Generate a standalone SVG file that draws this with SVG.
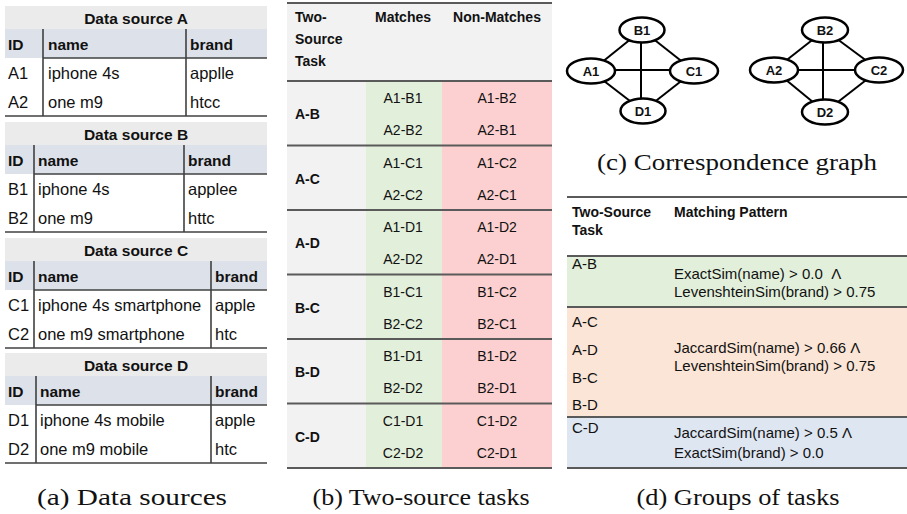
<svg xmlns="http://www.w3.org/2000/svg" width="907" height="514" viewBox="0 0 907 514">
  <style>
    text { font-family: "Liberation Sans", Arial, sans-serif; fill: #111; }
    .ttl { font-size: 15.5px; font-weight: bold; text-anchor: middle; }
    .hd { font-size: 15.5px; font-weight: bold; }
    .cell { font-size: 16.5px; }
    .bh { font-size: 14px; font-weight: bold; }
    .bc { font-size: 14px; text-anchor: middle; }
    .dc { font-size: 15px; }
    .cap { font-family: "Liberation Serif", "Times New Roman", serif; font-size: 23px; text-anchor: middle; }
    .rule { stroke: #404040; stroke-width: 1.6; fill: none; }
    .rule2 { stroke: #5a5a5a; stroke-width: 2; fill: none; }
    .titlebg { fill: #ebebeb; }
    .headbg { fill: #dde1e9; }
    .edge { stroke: #000; stroke-width: 2; }
    .node ellipse { fill: #fff; stroke: #000; stroke-width: 2.5; }
    .node text { font-size: 13px; font-weight: bold; text-anchor: middle; }
  </style>

  <!-- (a) data sources -->
  <g id="source-a">
    <rect class="titlebg" x="5" y="6" width="262" height="23"/>
    <rect class="headbg" x="5" y="29" width="262" height="29"/>
    <text class="ttl" x="136" y="23.5">Data source A</text>
    <text class="hd" x="8" y="50">ID</text>
    <text class="hd" x="48" y="50">name</text>
    <text class="hd" x="190" y="50">brand</text>
    <line class="rule" x1="43" y1="58" x2="267" y2="58"/>
    <line class="rule" x1="43" y1="29" x2="43" y2="116"/>
    <line class="rule" x1="186" y1="29" x2="186" y2="116"/>
    <line class="rule" x1="5" y1="116" x2="267" y2="116"/>
    <text class="cell" x="8" y="79">A1</text>
    <text class="cell" x="48" y="79">iphone 4s</text>
    <text class="cell" x="190" y="79">applle</text>
    <text class="cell" x="8" y="108">A2</text>
    <text class="cell" x="48" y="108">one m9</text>
    <text class="cell" x="190" y="108">htcc</text>
  </g>

  <g id="source-b">
    <rect class="titlebg" x="5" y="122" width="262" height="23"/>
    <rect class="headbg" x="5" y="145" width="262" height="29"/>
    <text class="ttl" x="136" y="139.5">Data source B</text>
    <text class="hd" x="8" y="166">ID</text>
    <text class="hd" x="38" y="166">name</text>
    <text class="hd" x="188" y="166">brand</text>
    <line class="rule" x1="34" y1="174" x2="267" y2="174"/>
    <line class="rule" x1="34" y1="145" x2="34" y2="232"/>
    <line class="rule" x1="184" y1="145" x2="184" y2="232"/>
    <line class="rule" x1="5" y1="232" x2="267" y2="232"/>
    <text class="cell" x="8" y="195">B1</text>
    <text class="cell" x="38" y="195">iphone 4s</text>
    <text class="cell" x="188" y="195">applee</text>
    <text class="cell" x="8" y="224">B2</text>
    <text class="cell" x="38" y="224">one m9</text>
    <text class="cell" x="188" y="224">httc</text>
  </g>

  <g id="source-c">
    <rect class="titlebg" x="5" y="238" width="262" height="23"/>
    <rect class="headbg" x="5" y="261" width="262" height="29"/>
    <text class="ttl" x="136" y="255.5">Data source C</text>
    <text class="hd" x="8" y="282">ID</text>
    <text class="hd" x="38" y="282">name</text>
    <text class="hd" x="215" y="282">brand</text>
    <line class="rule" x1="34" y1="290" x2="267" y2="290"/>
    <line class="rule" x1="34" y1="261" x2="34" y2="348"/>
    <line class="rule" x1="211" y1="261" x2="211" y2="348"/>
    <line class="rule" x1="5" y1="348" x2="267" y2="348"/>
    <text class="cell" x="8" y="311">C1</text>
    <text class="cell" x="38" y="311">iphone 4s smartphone</text>
    <text class="cell" x="215" y="311">apple</text>
    <text class="cell" x="8" y="340">C2</text>
    <text class="cell" x="38" y="340">one m9 smartphone</text>
    <text class="cell" x="215" y="340">htc</text>
  </g>

  <g id="source-d">
    <rect class="titlebg" x="5" y="353" width="262" height="23"/>
    <rect class="headbg" x="5" y="376" width="262" height="29"/>
    <text class="ttl" x="136" y="370.5">Data source D</text>
    <text class="hd" x="8" y="397">ID</text>
    <text class="hd" x="40" y="397">name</text>
    <text class="hd" x="215" y="397">brand</text>
    <line class="rule" x1="36" y1="405" x2="267" y2="405"/>
    <line class="rule" x1="36" y1="376" x2="36" y2="463"/>
    <line class="rule" x1="211" y1="376" x2="211" y2="463"/>
    <line class="rule" x1="5" y1="463" x2="267" y2="463"/>
    <text class="cell" x="8" y="426">D1</text>
    <text class="cell" x="40" y="426">iphone 4s mobile</text>
    <text class="cell" x="215" y="426">apple</text>
    <text class="cell" x="8" y="455">D2</text>
    <text class="cell" x="40" y="455">one m9 mobile</text>
    <text class="cell" x="215" y="455">htc</text>
  </g>

  <!-- (b) two-source tasks -->
  <g id="two-source-tasks">
    <rect x="287" y="3" width="265" height="78" fill="#f2f2f2"/>
    <rect x="287" y="81" width="79" height="387" fill="#f2f2f2"/>
    <rect x="366" y="81" width="76" height="387" fill="#e2efda"/>
    <rect x="442" y="81" width="110" height="387" fill="#fcd0d0"/>
    <line class="rule2" x1="287" y1="3" x2="552" y2="3" stroke="#7a7a7a"/>
    <text class="bh" x="295" y="22">Two-</text>
    <text class="bh" x="295" y="44">Source</text>
    <text class="bh" x="295" y="66">Task</text>
    <text class="bh" x="403" y="22" text-anchor="middle">Matches</text>
    <text class="bh" x="497" y="22" text-anchor="middle">Non-Matches</text>
    <line class="rule2" x1="287" y1="81" x2="552" y2="81"/>
    <line class="rule2" x1="287" y1="145.5" x2="552" y2="145.5"/>
    <line class="rule2" x1="287" y1="210" x2="552" y2="210"/>
    <line class="rule2" x1="287" y1="274.5" x2="552" y2="274.5"/>
    <line class="rule2" x1="287" y1="339" x2="552" y2="339"/>
    <line class="rule2" x1="287" y1="403.5" x2="552" y2="403.5"/>
    <line class="rule2" x1="287" y1="468" x2="552" y2="468"/>

    <text class="bh" x="295" y="119">A-B</text>
    <text class="bc" x="403" y="103">A1-B1</text>
    <text class="bc" x="403" y="135">A2-B2</text>
    <text class="bc" x="497" y="103">A1-B2</text>
    <text class="bc" x="497" y="135">A2-B1</text>

    <text class="bh" x="295" y="183.5">A-C</text>
    <text class="bc" x="403" y="167.5">A1-C1</text>
    <text class="bc" x="403" y="199.5">A2-C2</text>
    <text class="bc" x="497" y="167.5">A1-C2</text>
    <text class="bc" x="497" y="199.5">A2-C1</text>

    <text class="bh" x="295" y="248">A-D</text>
    <text class="bc" x="403" y="232">A1-D1</text>
    <text class="bc" x="403" y="264">A2-D2</text>
    <text class="bc" x="497" y="232">A1-D2</text>
    <text class="bc" x="497" y="264">A2-D1</text>

    <text class="bh" x="295" y="312.5">B-C</text>
    <text class="bc" x="403" y="296.5">B1-C1</text>
    <text class="bc" x="403" y="328.5">B2-C2</text>
    <text class="bc" x="497" y="296.5">B1-C2</text>
    <text class="bc" x="497" y="328.5">B2-C1</text>

    <text class="bh" x="295" y="377">B-D</text>
    <text class="bc" x="403" y="361">B1-D1</text>
    <text class="bc" x="403" y="393">B2-D2</text>
    <text class="bc" x="497" y="361">B1-D2</text>
    <text class="bc" x="497" y="393">B2-D1</text>

    <text class="bh" x="295" y="441.5">C-D</text>
    <text class="bc" x="403" y="425.5">C1-D1</text>
    <text class="bc" x="403" y="457.5">C2-D2</text>
    <text class="bc" x="497" y="425.5">C1-D2</text>
    <text class="bc" x="497" y="457.5">C2-D1</text>
  </g>

  <!-- (c) correspondence graph -->
  <g id="connectors">
    <line class="edge" x1="642" y1="30" x2="591" y2="71"/>
    <line class="edge" x1="642" y1="30" x2="694" y2="71"/>
    <line class="edge" x1="591" y1="71" x2="643" y2="111"/>
    <line class="edge" x1="694" y1="71" x2="643" y2="111"/>
    <line class="edge" x1="641" y1="30" x2="641" y2="111"/>
    <line class="edge" x1="591" y1="70" x2="694" y2="70"/>

    <line class="edge" x1="825" y1="30" x2="774" y2="70"/>
    <line class="edge" x1="825" y1="30" x2="879" y2="70"/>
    <line class="edge" x1="774" y1="70" x2="825" y2="112"/>
    <line class="edge" x1="879" y1="70" x2="825" y2="112"/>
    <line class="edge" x1="823" y1="30" x2="823" y2="112"/>
    <line class="edge" x1="774" y1="70" x2="879" y2="70"/>
  </g>
  <g id="node-b1" class="node"><ellipse cx="642" cy="30" rx="22.5" ry="12.5"/><text x="642" y="34.5">B1</text></g>
  <g id="node-a1" class="node"><ellipse cx="591" cy="71" rx="24" ry="12.5"/><text x="591" y="75.5">A1</text></g>
  <g id="node-c1" class="node"><ellipse cx="694" cy="71" rx="24" ry="12.5"/><text x="694" y="75.5">C1</text></g>
  <g id="node-d1" class="node"><ellipse cx="643" cy="111" rx="22.5" ry="12.5"/><text x="643" y="115.5">D1</text></g>
  <g id="node-b2" class="node"><ellipse cx="825" cy="30" rx="23" ry="12.5"/><text x="825" y="34.5">B2</text></g>
  <g id="node-a2" class="node"><ellipse cx="774" cy="70" rx="24" ry="12.5"/><text x="774" y="74.5">A2</text></g>
  <g id="node-c2" class="node"><ellipse cx="879" cy="70" rx="24" ry="12.5"/><text x="879" y="74.5">C2</text></g>
  <g id="node-d2" class="node"><ellipse cx="825" cy="112" rx="23" ry="12.5"/><text x="825" y="116.5">D2</text></g>

  <!-- (d) groups of tasks -->
  <g id="task-groups">
    <rect x="567" y="256" width="340" height="51" fill="#e2efda"/>
    <rect x="567" y="307" width="340" height="110" fill="#fbe5d6"/>
    <rect x="567" y="417" width="340" height="51" fill="#dee6f1"/>
    <line class="rule2" x1="567" y1="197" x2="907" y2="197"/>
    <line class="rule2" x1="567" y1="256" x2="907" y2="256"/>
    <line class="rule2" x1="567" y1="307" x2="907" y2="307"/>
    <line class="rule2" x1="567" y1="417" x2="907" y2="417"/>
    <line class="rule2" x1="567" y1="468" x2="907" y2="468"/>
    <text class="bh" x="572" y="217">Two-Source</text>
    <text class="bh" x="572" y="235">Task</text>
    <text class="bh" x="674" y="217">Matching Pattern</text>

    <text class="dc" x="572" y="269">A-B</text>
    <text class="dc" x="674" y="279">ExactSim(name) &gt; 0.0 &#160;Λ</text>
    <text class="dc" x="674" y="297">LevenshteinSim(brand) &gt; 0.75</text>

    <text class="dc" x="572" y="327">A-C</text>
    <text class="dc" x="572" y="355">A-D</text>
    <text class="dc" x="572" y="383">B-C</text>
    <text class="dc" x="572" y="410">B-D</text>
    <text class="dc" x="674" y="353">JaccardSim(name) &gt; 0.66 Λ</text>
    <text class="dc" x="674" y="371">LevenshteinSim(brand) &gt; 0.75</text>

    <text class="dc" x="572" y="433">C-D</text>
    <text class="dc" x="674" y="438">JaccardSim(name) &gt; 0.5 Λ</text>
    <text class="dc" x="674" y="458">ExactSim(brand) &gt; 0.0</text>
  </g>

  <!-- captions -->
  <g id="captions">
    <text class="cap" x="737" y="170" textLength="280" lengthAdjust="spacingAndGlyphs">(c) Correspondence graph</text>
    <text class="cap" x="132" y="505" textLength="190" lengthAdjust="spacingAndGlyphs">(a) Data sources</text>
    <text class="cap" x="421" y="505" textLength="217" lengthAdjust="spacingAndGlyphs">(b) Two-source tasks</text>
    <text class="cap" x="738" y="505" textLength="203" lengthAdjust="spacingAndGlyphs">(d) Groups of tasks</text>
  </g>
</svg>
